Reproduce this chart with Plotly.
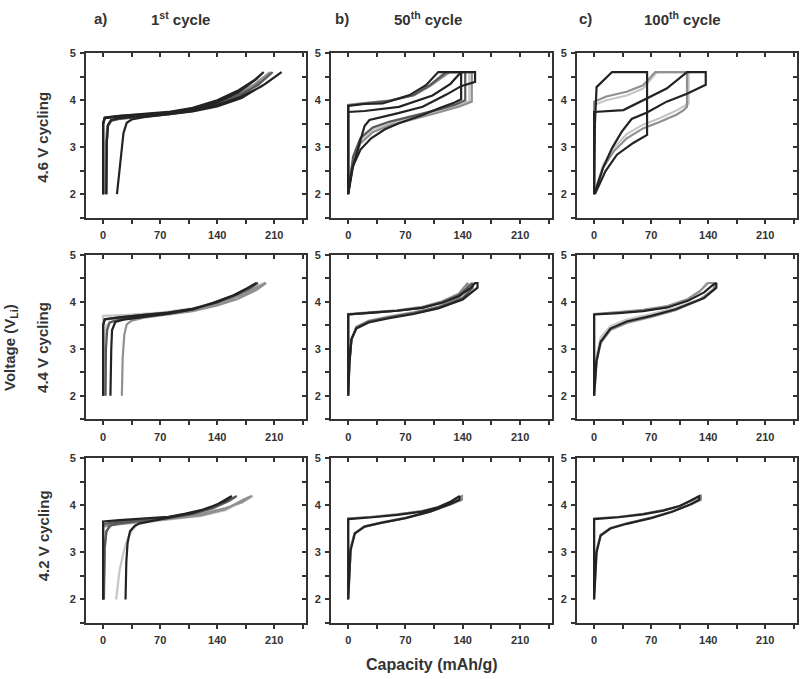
import plotly.graph_objects as go

# ---------------- colours of the series ----------------
COLORS = {"K": "#232323", "DG": "#595959", "G": "#909090", "LG": "#c6c6c6"}

# ---------------- axis values ----------------
X_RANGE = [-21, 249]
Y_RANGE = [1.5, 5.0]
X_TICKS = [0, 70, 140, 210]
Y_TICKS = [2, 3, 4, 5]

COL_TITLES = [("a)", "1<sup>st</sup> cycle"), ("b)", "50<sup>th</sup> cycle"), ("c)", "100<sup>th</sup> cycle")]
ROW_TITLES = ["4.6 V cycling", "4.4 V cycling", "4.2 V cycling"]
X_TITLE = "Capacity (mAh/g)"
Y_TITLE = "Voltage (V<sub>Li</sub>)"

# ---------------- data: (colour, capacity list, voltage list) ----------------
A46 = [
    ("G", [0, 0, 2, 20, 50, 80, 110, 140, 165, 185, 205, 195, 170, 140, 110, 80, 50, 20, 9, 5, 3.5, 3],
          [2.0, 3.5, 3.62, 3.665, 3.70, 3.74, 3.82, 3.96, 4.15, 4.33, 4.6, 4.45, 4.14, 3.92, 3.78, 3.71, 3.66, 3.61, 3.57, 3.45, 3.1, 2.0]),
    ("DG", [0, 0, 2, 20, 50, 80, 110, 140, 165, 190, 208, 195, 170, 140, 110, 80, 50, 20, 10, 6, 4.5, 4],
           [2.0, 3.5, 3.62, 3.66, 3.69, 3.73, 3.80, 3.93, 4.10, 4.32, 4.6, 4.40, 4.10, 3.90, 3.77, 3.70, 3.65, 3.60, 3.56, 3.45, 3.1, 2.0]),
    ("K", [0, 0, 2, 20, 50, 80, 110, 140, 165, 185, 197, 188, 165, 140, 110, 80, 50, 20, 10, 6, 4.5, 4],
          [2.0, 3.5, 3.63, 3.67, 3.71, 3.75, 3.84, 4.0, 4.2, 4.42, 4.6, 4.45, 4.16, 3.95, 3.80, 3.72, 3.67, 3.62, 3.58, 3.47, 3.1, 2.0]),
    ("K", [0, 0, 2, 20, 50, 80, 110, 140, 170, 195, 219, 200, 170, 140, 110, 80, 50, 35, 29, 25, 22, 17],
          [2.0, 3.5, 3.62, 3.65, 3.68, 3.72, 3.78, 3.9, 4.08, 4.3, 4.6, 4.36, 4.05, 3.87, 3.76, 3.70, 3.64, 3.59, 3.52, 3.3, 2.8, 2.0]),
]

B46 = [
    ("LG", [0, 0, 20, 50, 80, 100, 118, 148, 148, 135, 110, 80, 50, 30, 15, 6, 1, 0],
           [2.0, 3.9, 3.94, 3.99, 4.12, 4.33, 4.6, 4.6, 3.98, 3.90, 3.78, 3.64, 3.50, 3.38, 3.15, 2.75, 2.2, 2.0]),
    ("G", [0, 0, 20, 50, 80, 100, 124, 151, 151, 135, 110, 80, 50, 30, 15, 6, 1, 0],
          [2.0, 3.9, 3.94, 3.99, 4.1, 4.3, 4.6, 4.6, 3.97, 3.86, 3.74, 3.60, 3.46, 3.32, 3.08, 2.7, 2.2, 2.0]),
    ("DG", [0, 0, 20, 50, 80, 100, 120, 143, 143, 130, 110, 80, 50, 30, 15, 6, 1, 0],
           [2.0, 3.89, 3.93, 3.98, 4.11, 4.32, 4.6, 4.6, 4.0, 3.9, 3.8, 3.67, 3.54, 3.42, 3.2, 2.8, 2.2, 2.0]),
    ("K", [0, 0, 20, 42, 75, 95, 110, 155, 155, 138, 120, 91, 60, 40, 26, 20, 13, 6, 0],
          [2.0, 3.88, 3.92, 3.93, 4.11, 4.32, 4.6, 4.6, 4.39, 4.3, 4.12, 3.86, 3.72, 3.64, 3.58, 3.45, 3.05, 2.6, 2.0]),
    ("K", [0, 0, 20, 62, 103, 125, 138, 138, 130, 111, 90, 62, 45, 28, 15, 5, 0],
          [2.0, 3.75, 3.77, 3.86, 4.1, 4.35, 4.6, 4.02, 3.95, 3.83, 3.68, 3.51, 3.38, 3.19, 2.95, 2.56, 2.0]),
]

C46 = [
    ("LG", [0, 0, 15, 40, 60, 70, 77, 116, 116, 110, 101, 81, 60, 40, 24, 11, 3, 0],
           [2.0, 3.9, 4.0, 4.1, 4.25, 4.45, 4.6, 4.6, 3.93, 3.87, 3.78, 3.62, 3.48, 3.28, 2.98, 2.62, 2.2, 2.0]),
    ("G", [0, 0, 15, 40, 60, 70, 75, 114, 114, 110, 101, 81, 60, 40, 24, 11, 3, 0],
          [2.0, 3.97, 4.08, 4.18, 4.32, 4.5, 4.6, 4.6, 3.86, 3.79, 3.69, 3.54, 3.40, 3.19, 2.91, 2.56, 2.14, 2.0]),
    ("K", [0, 1, 3, 10, 22, 65, 65, 48, 28, 14, 4, 1],
          [2.0, 3.5, 4.28, 4.4, 4.6, 4.6, 3.26, 3.09, 2.84, 2.49, 2.1, 2.0]),
    ("K", [0, 0, 36, 65, 89, 114, 137, 137, 114, 89, 65, 46, 34, 22, 11, 3, 0],
          [2.0, 3.75, 3.79, 4.04, 4.25, 4.6, 4.6, 4.33, 4.14, 3.97, 3.74, 3.6, 3.33, 2.98, 2.56, 2.14, 2.0]),
]

A44 = [
    ("LG", [0, 0, 30, 70, 110, 140, 170, 198, 185, 160, 130, 100, 70, 40, 15, 4, 1, 0],
           [2.0, 3.70, 3.72, 3.77, 3.86, 4.0, 4.2, 4.4, 4.28, 4.1, 3.92, 3.82, 3.75, 3.68, 3.62, 3.5, 3.0, 2.0]),
    ("G", [0, 0, 2, 20, 50, 80, 110, 140, 170, 200, 188, 165, 140, 110, 80, 50, 35, 29, 26, 24, 23],
          [2.0, 3.5, 3.62, 3.66, 3.70, 3.75, 3.82, 3.95, 4.15, 4.4, 4.25, 4.06, 3.92, 3.80, 3.73, 3.66, 3.6, 3.52, 3.3, 2.8, 2.0]),
    ("DG", [0, 0, 2, 20, 50, 80, 110, 140, 165, 190, 180, 160, 135, 110, 80, 50, 20, 8, 5, 3.5, 3],
           [2.0, 3.5, 3.63, 3.67, 3.72, 3.77, 3.85, 3.99, 4.16, 4.4, 4.28, 4.12, 3.97, 3.84, 3.75, 3.68, 3.62, 3.56, 3.4, 3.0, 2.0]),
    ("K", [0, 0, 2, 20, 50, 80, 110, 140, 165, 188, 178, 160, 135, 110, 80, 50, 25, 15, 11, 10, 9],
          [2.0, 3.5, 3.63, 3.67, 3.72, 3.77, 3.85, 3.99, 4.17, 4.4, 4.3, 4.14, 3.98, 3.84, 3.75, 3.68, 3.62, 3.57, 3.4, 3.0, 2.0]),
]

B44 = [
    ("LG", [0, 0, 30, 60, 90, 115, 135, 148, 150, 150, 140, 110, 80, 50, 25, 10, 4, 1.5, 0],
           [2.0, 3.73, 3.77, 3.81, 3.88, 4.0, 4.15, 4.35, 4.4, 4.3, 4.1, 3.9, 3.78, 3.69, 3.6, 3.47, 3.22, 2.7, 2.0]),
    ("G", [0, 0, 30, 60, 90, 115, 135, 145, 146, 146, 135, 110, 80, 50, 25, 10, 4, 1.5, 0],
          [2.0, 3.74, 3.78, 3.82, 3.89, 4.01, 4.17, 4.36, 4.4, 4.3, 4.08, 3.89, 3.77, 3.68, 3.59, 3.46, 3.2, 2.7, 2.0]),
    ("DG", [0, 0, 30, 60, 90, 115, 135, 148, 152, 152, 140, 110, 80, 50, 25, 10, 4, 1.5, 0],
           [2.0, 3.73, 3.77, 3.81, 3.87, 3.99, 4.14, 4.33, 4.4, 4.3, 4.08, 3.88, 3.76, 3.67, 3.58, 3.45, 3.2, 2.7, 2.0]),
    ("K", [0, 0, 30, 60, 90, 115, 135, 150, 155, 158, 158, 140, 110, 80, 50, 25, 10, 4, 1.5, 0],
          [2.0, 3.73, 3.77, 3.81, 3.87, 3.98, 4.12, 4.3, 4.4, 4.4, 4.3, 4.05, 3.86, 3.74, 3.65, 3.56, 3.43, 3.2, 2.7, 2.0]),
]

C44 = [
    ("LG", [0, 0, 30, 60, 90, 115, 130, 138, 148, 148, 130, 100, 70, 40, 20, 8, 3, 0],
           [2.0, 3.73, 3.77, 3.82, 3.9, 4.05, 4.22, 4.4, 4.4, 4.28, 4.06, 3.87, 3.74, 3.62, 3.48, 3.24, 2.84, 2.0]),
    ("G", [0, 0, 30, 60, 90, 115, 130, 140, 147, 147, 130, 100, 70, 40, 20, 8, 3, 0],
          [2.0, 3.74, 3.78, 3.83, 3.91, 4.06, 4.23, 4.4, 4.4, 4.27, 4.04, 3.82, 3.68, 3.55, 3.4, 3.12, 2.72, 2.0]),
    ("K", [0, 0, 30, 60, 90, 115, 135, 145, 150, 150, 135, 100, 70, 40, 20, 8, 3, 0],
          [2.0, 3.73, 3.76, 3.8, 3.88, 4.02, 4.2, 4.35, 4.4, 4.3, 4.08, 3.84, 3.7, 3.58, 3.43, 3.15, 2.75, 2.0]),
]

A42 = [
    ("LG", [0, 0, 30, 60, 90, 120, 150, 170, 184, 175, 150, 120, 90, 60, 42, 36, 30, 25, 20, 16],
           [2.0, 3.55, 3.66, 3.70, 3.75, 3.82, 3.94, 4.06, 4.2, 4.12, 3.9, 3.78, 3.72, 3.66, 3.6, 3.49, 3.3, 3.0, 2.6, 2.0]),
    ("G", [0, 0, 30, 60, 90, 120, 150, 170, 182, 172, 150, 120, 90, 60, 30, 10, 4, 2, 0.5],
          [2.0, 3.55, 3.66, 3.70, 3.75, 3.82, 3.94, 4.07, 4.2, 4.12, 3.92, 3.79, 3.73, 3.67, 3.62, 3.58, 3.45, 3.1, 2.0]),
    ("DG", [0, 0, 20, 50, 80, 100, 120, 140, 164, 155, 135, 110, 80, 50, 20, 8, 4, 2, 1],
           [2.0, 3.6, 3.66, 3.71, 3.75, 3.81, 3.88, 3.99, 4.2, 4.1, 3.94, 3.82, 3.73, 3.68, 3.62, 3.57, 3.45, 3.1, 2.0]),
    ("K", [0, 0, 20, 50, 80, 100, 120, 140, 158, 150, 130, 110, 80, 60, 45, 39, 33, 30, 28.5, 27.5],
          [2.0, 3.66, 3.69, 3.72, 3.76, 3.82, 3.9, 4.02, 4.2, 4.1, 3.95, 3.84, 3.74, 3.68, 3.62, 3.57, 3.45, 3.2, 2.8, 2.0]),
]

B42 = [
    ("LG", [0, 0, 30, 60, 90, 110, 125, 136, 136, 125, 100, 70, 40, 20, 8, 3, 0],
           [2.0, 3.72, 3.76, 3.81, 3.88, 3.97, 4.08, 4.2, 4.12, 4.04, 3.88, 3.74, 3.64, 3.56, 3.42, 3.1, 2.0]),
    ("G", [0, 0, 30, 60, 90, 110, 125, 139, 139, 125, 100, 70, 40, 20, 8, 3, 0],
          [2.0, 3.72, 3.76, 3.81, 3.88, 3.96, 4.07, 4.2, 4.12, 4.02, 3.87, 3.73, 3.63, 3.55, 3.41, 3.1, 2.0]),
    ("K", [0, 0, 30, 60, 90, 110, 125, 134, 136, 136, 125, 100, 70, 40, 20, 8, 3, 0],
          [2.0, 3.71, 3.75, 3.8, 3.87, 3.96, 4.08, 4.18, 4.2, 4.12, 4.03, 3.87, 3.73, 3.63, 3.55, 3.4, 3.05, 2.0]),
]

C42 = [
    ("G", [0, 0, 30, 60, 85, 105, 120, 131, 131, 120, 95, 70, 40, 20, 8, 3, 0],
          [2.0, 3.72, 3.76, 3.82, 3.9, 3.99, 4.1, 4.2, 4.12, 4.03, 3.87, 3.74, 3.62, 3.52, 3.38, 3.05, 2.0]),
    ("K", [0, 0, 30, 60, 85, 105, 118, 126, 129, 129, 118, 95, 70, 40, 20, 8, 3, 0],
          [2.0, 3.71, 3.75, 3.81, 3.89, 3.99, 4.1, 4.18, 4.2, 4.12, 4.02, 3.86, 3.73, 3.61, 3.51, 3.36, 3.0, 2.0]),
]

PANELS = [[A46, B46, C46], [A44, B44, C44], [A42, B42, C42]]

# ---------------- layout geometry (pixels of the 805x679 page) ----------------
W, H = 805, 679
COL_PX = [(86, 306), (331, 552), (577, 797)]
ROW_PX = [(47.7, 213.5), (251, 417), (456.5, 622.5)]

AXC = "#333333"
TICKFONT = dict(family="Arial, Liberation Sans", size=11, color=AXC, weight="bold")

fig = go.Figure()
layout = dict(width=W, height=H, margin=dict(l=0, r=0, t=0, b=0),
              plot_bgcolor="white", paper_bgcolor="white", showlegend=False)

for r in range(3):
    for c in range(3):
        n = r * 3 + c + 1
        m = n + 9
        xd = [COL_PX[c][0] / W, COL_PX[c][1] / W]
        yd = [1 - ROW_PX[r][1] / H, 1 - ROW_PX[r][0] / H]
        layout[f"xaxis{n}"] = dict(
            domain=xd, anchor=f"y{n}", range=X_RANGE, tickmode="array", tickvals=X_TICKS,
            ticks="outside", ticklen=4, tickwidth=1.5, tickcolor=AXC,
            minor=dict(tickmode="array", tickvals=[35, 105, 175, 245], ticks="outside", ticklen=4, tickwidth=1.5, tickcolor=AXC),
            showline=True, linewidth=2, linecolor=AXC, mirror=True,
            showgrid=False, zeroline=False, tickfont=TICKFONT, ticklabelstandoff=2)
        layout[f"yaxis{n}"] = dict(
            domain=yd, anchor=f"x{n}", range=Y_RANGE, tickmode="array", tickvals=Y_TICKS,
            ticks="outside", ticklen=4, tickwidth=1.5, tickcolor=AXC,
            minor=dict(tickmode="array", tickvals=[1.5, 2.5, 3.5, 4.5], ticks="outside", ticklen=4, tickwidth=1.5, tickcolor=AXC),
            showline=True, linewidth=2, linecolor=AXC, mirror=True,
            showgrid=False, zeroline=False, tickfont=TICKFONT, ticklabelstandoff=2)
        layout[f"xaxis{m}"] = dict(
            overlaying=f"x{n}", anchor=f"y{n}", side="top", range=X_RANGE, tickmode="array", tickvals=X_TICKS,
            ticks="inside", ticklen=4, tickwidth=1.5, tickcolor=AXC, showticklabels=False,
            minor=dict(tickmode="array", tickvals=[35, 105, 175, 245], ticks="inside", ticklen=4, tickwidth=1.5, tickcolor=AXC),
            showline=False, showgrid=False, zeroline=False)
        layout[f"yaxis{m}"] = dict(
            overlaying=f"y{n}", anchor=f"x{n}", side="right", range=Y_RANGE, tickmode="array", tickvals=Y_TICKS,
            ticks="inside", ticklen=4, tickwidth=1.5, tickcolor=AXC, showticklabels=False,
            minor=dict(tickmode="array", tickvals=[1.5, 2.5, 3.5, 4.5], ticks="inside", ticklen=4, tickwidth=1.5, tickcolor=AXC),
            showline=False, showgrid=False, zeroline=False)
        fig.add_trace(go.Scatter(x=[None], y=[None], xaxis=f"x{m}", yaxis=f"y{n}", hoverinfo="skip"))
        fig.add_trace(go.Scatter(x=[None], y=[None], xaxis=f"x{n}", yaxis=f"y{m}", hoverinfo="skip"))
        for col, xs, ys in PANELS[r][c]:
            fig.add_trace(go.Scatter(x=xs, y=ys, mode="lines", xaxis=f"x{n}", yaxis=f"y{n}",
                                     line=dict(color=COLORS[col], width=2.2), hoverinfo="skip"))

ann = []
TF = dict(family="Arial, Liberation Sans", size=15, color=AXC, weight="bold")
LETTER_X = [100, 342, 585]
TITLE_X = [180, 428, 682]
for i, (let, tt) in enumerate(COL_TITLES):
    ann.append(dict(x=LETTER_X[i] / W, y=1 - 13 / H, xref="paper", yref="paper", text=let, showarrow=False,
                    font=TF, xanchor="center", yanchor="middle"))
    ann.append(dict(x=TITLE_X[i] / W, y=1 - 13 / H, xref="paper", yref="paper", text=tt, showarrow=False,
                    font=TF, xanchor="center", yanchor="middle"))
ROW_Y = [133, 345, 535]
for i, t in enumerate(ROW_TITLES):
    ann.append(dict(x=43 / W, y=1 - ROW_Y[i] / H, xref="paper", yref="paper", text=t, showarrow=False,
                    font=dict(family="Arial, Liberation Sans", size=15, color=AXC, weight="bold"),
                    textangle=-90, xanchor="center", yanchor="middle"))
ann.append(dict(x=11 / W, y=1 - 345 / H, xref="paper", yref="paper", text=Y_TITLE, showarrow=False,
                font=dict(family="Arial, Liberation Sans", size=15, color=AXC, weight="bold"),
                textangle=-90, xanchor="center", yanchor="middle"))
ann.append(dict(x=432 / W, y=1 - 664 / H, xref="paper", yref="paper", text=X_TITLE, showarrow=False,
                font=dict(family="Arial, Liberation Sans", size=16, color=AXC, weight="bold"),
                xanchor="center", yanchor="middle"))
layout["annotations"] = ann
fig.update_layout(**layout)
fig.write_html("out.html", config={"displayModeBar": False},
               post_script="document.body.style.margin='0px';document.body.style.overflow='hidden';")
